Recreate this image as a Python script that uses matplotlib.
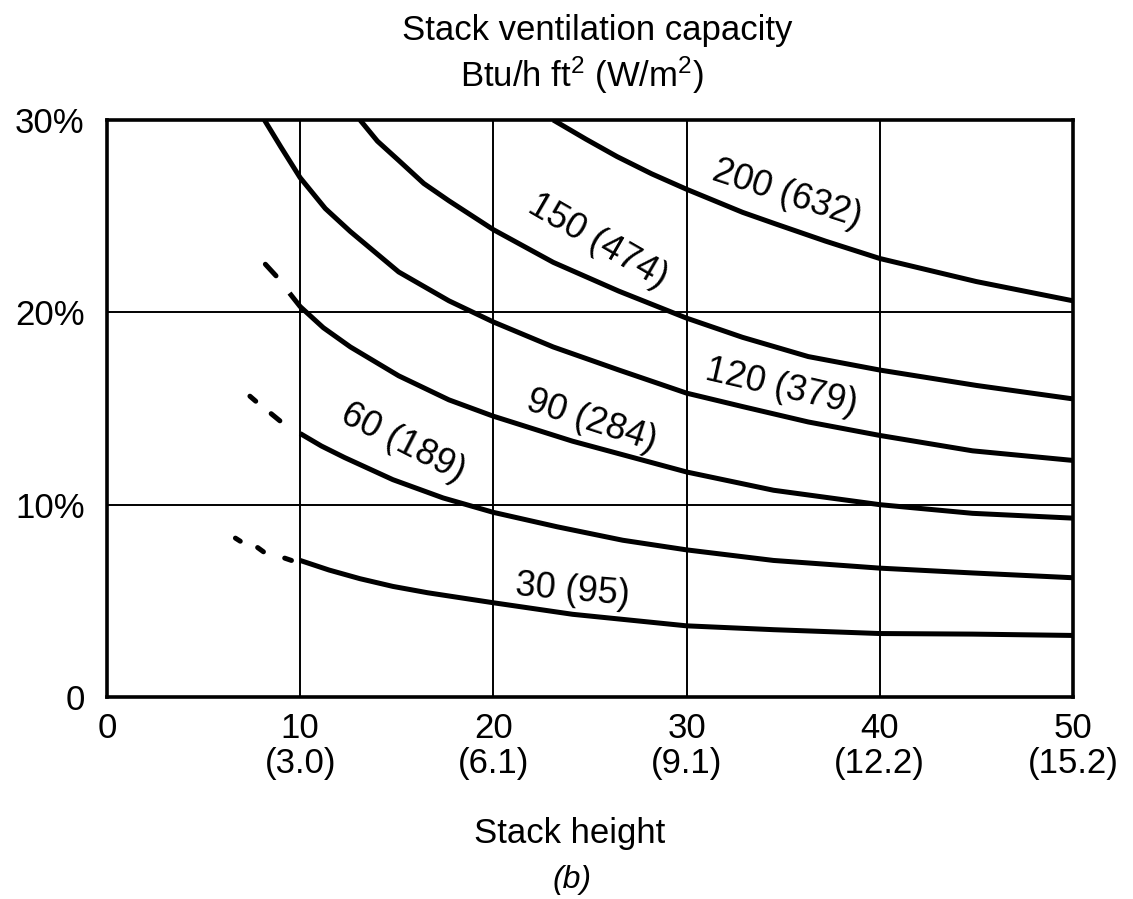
import matplotlib
matplotlib.use("Agg")
import matplotlib.pyplot as plt

plt.rcParams['font.family'] = ['Liberation Sans', 'DejaVu Sans']
plt.rcParams['mathtext.fontset'] = 'custom'
plt.rcParams['mathtext.rm'] = 'Liberation Sans'
plt.rcParams['mathtext.it'] = 'Liberation Sans:italic'

# stack height (ft) vs. stack ventilation capacity (% of floor area)
x_30 = [10, 11.5, 13.1, 14.8, 16.6, 20, 24.1, 30, 34.5, 40, 44.8, 50]
y_30 = [7.1, 6.6, 6.15, 5.75, 5.42, 4.9, 4.3, 3.7, 3.5, 3.3, 3.27, 3.2]

x_60 = [10, 11.1, 12.3, 14.8, 17.4, 20, 23.3, 26.7, 30, 34.5, 40, 44.8, 50]
y_60 = [13.7, 13.05, 12.45, 11.3, 10.35, 9.6, 8.85, 8.15, 7.65, 7.1, 6.7, 6.45, 6.2]

x_90 = [9.45, 10, 11.2, 12.6, 15.1, 17.7, 20, 24.1, 30, 34.5, 40, 44.8, 50]
y_90 = [21.0, 20.3, 19.2, 18.2, 16.7, 15.45, 14.6, 13.3, 11.7, 10.75, 10.0, 9.55, 9.3]

x_120 = [8.15, 9.0, 10, 11.3, 12.6, 15.1, 17.7, 20, 23.1, 26.5, 30, 32.9, 36.3, 40, 44.8, 50]
y_120 = [30.0, 28.6, 27.0, 25.4, 24.2, 22.1, 20.6, 19.5, 18.2, 17.0, 15.8, 15.1, 14.3, 13.6, 12.8, 12.3]

x_150 = [13.1, 14.0, 15.1, 16.4, 17.7, 20, 23.1, 26.5, 30, 32.9, 36.3, 40, 45, 50]
y_150 = [30.0, 28.9, 27.9, 26.7, 25.8, 24.3, 22.6, 21.1, 19.7, 18.7, 17.7, 17.0, 16.2, 15.5]

x_200 = [23.1, 24.8, 26.4, 28.2, 30, 32.9, 34.6, 37.2, 40, 45, 50]
y_200 = [30.0, 29.0, 28.1, 27.2, 26.4, 25.2, 24.6, 23.7, 22.8, 21.6, 20.6]

# short dashes where the curves are extrapolated below 10 ft
dash_30_x = [[6.65, 6.9], [7.8, 8.1], [9.2, 9.55]]
dash_30_y = [[8.26, 8.1], [7.77, 7.55], [7.22, 7.1]]
dash_60_x = [[7.4, 7.7], [8.5, 8.95]]
dash_60_y = [[15.64, 15.38], [14.73, 14.36]]
dash_90_x = [[8.2, 8.75]]
dash_90_y = [[22.5, 21.9]]

curve_labels = ["30 (95)", "60 (189)", "90 (284)", "120 (379)", "150 (474)", "200 (632)"]
label_x = [24.1, 15.3, 25.1, 34.9, 25.4, 35.2]
label_y = [5.55, 13.2, 14.35, 16.1, 23.7, 26.15]
label_rot = [-5, -27, -18, -13, -30, -18]

x_ticks = [0, 10, 20, 30, 40, 50]
x_tick_labels = ["0", "10\n(3.0)", "20\n(6.1)", "30\n(9.1)", "40\n(12.2)", "50\n(15.2)"]
y_ticks = [0, 10, 20, 30]
y_tick_labels = ["0", "10%", "20%", "30%"]

lw = 3.6

fig = plt.figure(figsize=(11.33, 8.99), dpi=100)
ax = fig.add_axes([0.0944, 0.2247, 0.8526, 0.6418])

for xs, ys in [(x_30, y_30), (x_60, y_60), (x_90, y_90),
               (x_120, y_120), (x_150, y_150), (x_200, y_200)]:
    ax.plot(xs, ys, color='black', linewidth=lw, solid_capstyle='butt',
            solid_joinstyle='round', zorder=3)

for dxs, dys in [(dash_30_x, dash_30_y), (dash_60_x, dash_60_y), (dash_90_x, dash_90_y)]:
    for dx, dy in zip(dxs, dys):
        ax.plot(dx, dy, color='black', linewidth=lw, solid_capstyle='round', zorder=3)

for s, lx, ly, r in zip(curve_labels, label_x, label_y, label_rot):
    ax.text(lx, ly, s, fontsize=26, rotation=r, ha='center', va='center',
            rotation_mode='anchor')

ax.set_xlim(0, 50)
ax.set_ylim(0, 30)
ax.set_xticks(x_ticks)
ax.set_xticklabels(x_tick_labels, fontsize=25, linespacing=1.05)
ax.set_yticks(y_ticks)
ax.set_yticklabels(y_tick_labels, fontsize=25)
ax.tick_params(axis='x', length=0, pad=11)
ax.tick_params(axis='y', length=0, pad=16)
ax.grid(True, color='black', linewidth=1.4)
for sp in ax.spines.values():
    sp.set_linewidth(2.6)
    sp.set_zorder(4)

fig.text(0.527, 0.966, "Stack ventilation capacity", fontsize=25, ha='center', va='center')
fig.text(0.514, 0.916, r"Btu/h ft$^2$ (W/m$^2$)", fontsize=25, ha='center', va='center')
fig.text(0.503, 0.073, "Stack height", fontsize=25, ha='center', va='center')
fig.text(0.505, 0.021, "(b)", fontsize=23, style='italic', ha='center', va='center')

fig.savefig("out.png", dpi=100)
